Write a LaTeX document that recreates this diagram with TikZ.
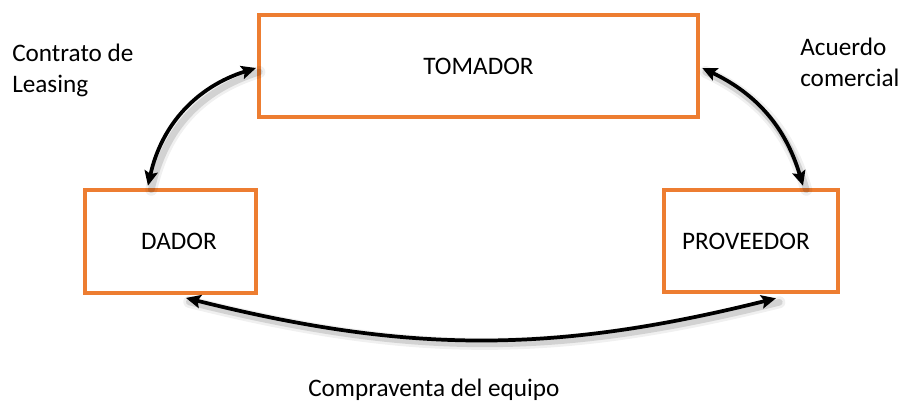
\documentclass[tikz,border=0pt]{standalone}
\usepackage{fontspec}
\setmainfont{Carlito}
\usetikzlibrary{arrows.meta}
\definecolor{boxorange}{HTML}{ED7D31}
\begin{document}
\begin{tikzpicture}[x=0.75pt,y=-0.75pt,
  every node/.style={font=\fontsize{18.9}{23.25}\selectfont},
  entity/.style={draw=boxorange,line width=2.4pt,fill=white,inner sep=0pt},
  lbl/.style={inner sep=0pt,align=left},
  conn/.style={line width=2.8pt,{Stealth[length=11pt,width=10pt,inset=2pt]}-{Stealth[length=11pt,width=10pt,inset=2pt]}},
  shadowa/.style={line width=9pt,black,opacity=0.06,line cap=round,transform canvas={shift={(2.5pt,-3pt)}}},
  shadowb/.style={line width=5pt,black,opacity=0.12,line cap=round,transform canvas={shift={(2.5pt,-3pt)}}}]
\path[use as bounding box,fill=white] (0,0) rectangle (903,403);

\node[entity,minimum width=329.25pt,minimum height=76.5pt] (tom) at (478.5,66) {TOMADOR};
\node[entity,minimum width=128.25pt,minimum height=77.25pt] (dad) at (170.5,241.5) {\hspace*{12.8pt}DADOR};
\node[entity,minimum width=130.5pt,minimum height=76.5pt] (pro) at (751,241) {PROVEEDOR\hspace*{7.5pt}};

\coordinate (dadtop) at ([xshift=-16.9pt,yshift=2pt]dad.north);
\coordinate (tomleft) at ([yshift=-1.5pt,xshift=-1pt]tom.west);
\coordinate (tomright) at ([yshift=-1.5pt,xshift=2pt]tom.east);
\coordinate (protop) at ([xshift=39pt,yshift=2pt]pro.north);
\coordinate (dadbot) at ([xshift=11.6pt,yshift=-2.5pt]dad.south);
\coordinate (probot) at ([xshift=18.75pt,yshift=-3.5pt]pro.south);

\foreach \s in {shadowa,shadowb}{
  \draw[\s] (dadtop) to[bend left=30] (tomleft);
  \draw[\s] (tomright) to[bend left=24] (protop);
  \draw[\s] (dadbot) to[bend right=14] (probot);
}
\draw[conn] (dadtop) to[bend left=30] (tomleft);
\draw[conn] (tomright) to[bend left=24] (protop);
\draw[conn] (dadbot) to[bend right=14] (probot);

\node[lbl,anchor=base west] (l1) at (12,93) {Contrato de\\Leasing};
\node[lbl,anchor=base west] (l2) at (800,87) {Acuerdo\\comercial};
\node[lbl,anchor=base west] (l3) at (308,396) {Compraventa del equipo};
\end{tikzpicture}
\end{document}
